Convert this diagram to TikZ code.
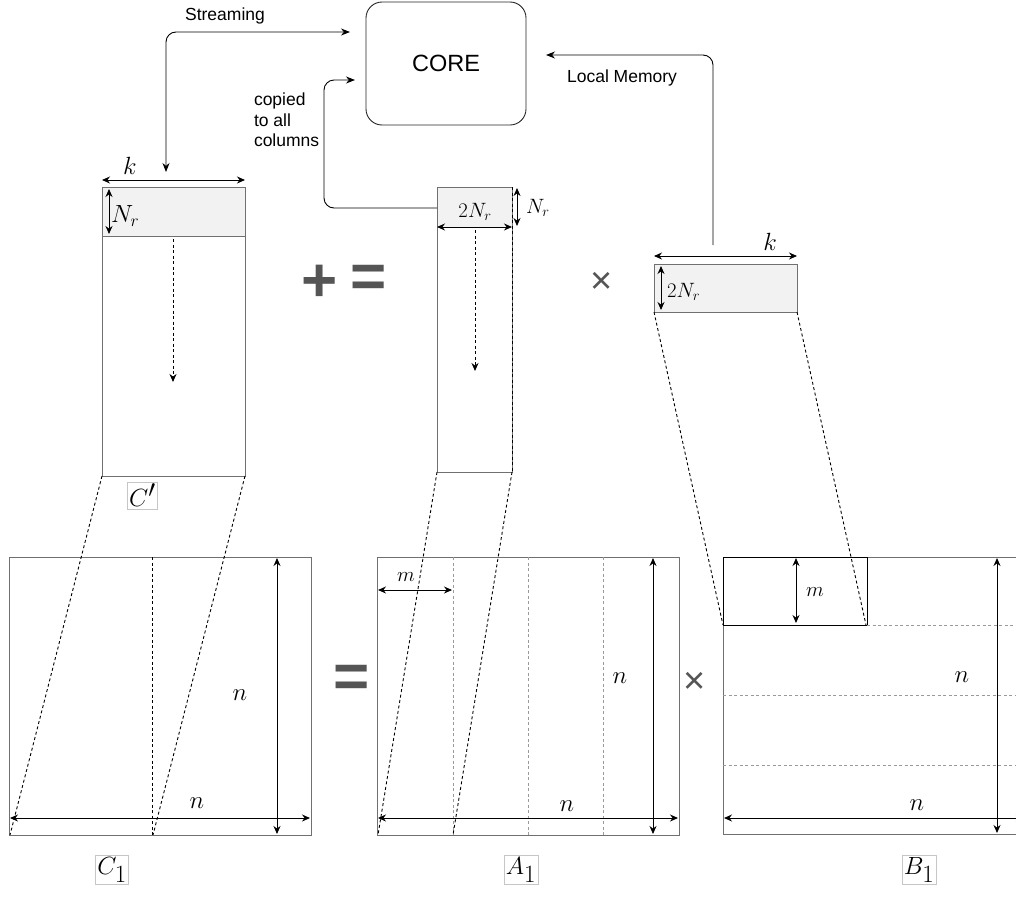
\documentclass[tikz,border=0pt]{standalone}
\usepackage{fontspec}
\setmainfont{Liberation Sans}
\usetikzlibrary{arrows.meta}
\definecolor{edge}{HTML}{707070}
\definecolor{blockfill}{HTML}{F2F2F2}
\definecolor{sym}{HTML}{555555}
\definecolor{lightdash}{HTML}{9A9A9A}
\begin{document}
\begin{tikzpicture}[x=1pt,y=-1pt,
  every node/.style={inner sep=0pt,outer sep=0pt},
  tipA/.style={-{Stealth[length=9pt,width=7pt]}},
  link/.style={draw=black,line width=0.9pt,rounded corners=10pt},
  dimline/.style={draw=black,line width=1pt,{Stealth[length=8pt,width=7pt]}-{Stealth[length=8pt,width=7pt]}},
  frame/.style={draw=edge,line width=1pt},
  proj/.style={draw=black,line width=0.9pt,dash pattern=on 3pt off 2.5pt},
  split/.style={draw=lightdash,line width=0.8pt,dash pattern=on 3pt off 2.5pt},
  flow/.style={draw=black,line width=1pt,dash pattern=on 3pt off 2.5pt,-{Stealth[length=8pt,width=7pt]}},
  sanslabel/.style={font=\fontsize{17.5}{21}\selectfont},
  mlabel/.style={font=\fontsize{23}{26}\selectfont},
  slabel/.style={font=\fontsize{20}{24}\selectfont},
  bigname/.style={draw=gray!45,line width=0.6pt,inner sep=2pt,font=\fontsize{37}{40}\selectfont},
  opsign/.style={text=sym,font=\fontsize{62}{62}\selectfont\bfseries},
  timesign/.style={text=sym,font=\fontsize{38}{38}\selectfont},
]
\useasboundingbox (0,0) rectangle (1016,897);
\clip (0,0) rectangle (1016,897);

% ---------- processing core ----------
\node[draw=black!85,line width=0.9pt,rounded corners=16pt,minimum width=160pt,minimum height=123pt,
      font=\fontsize{23.5}{28}\selectfont] (core) at (446,63.5) {CORE};

% ---------- block C' (streamed) ----------
\coordinate (cpTL) at (102,187);
\coordinate (cpBR) at (245,476);
\coordinate (cpBL) at (102,476);
\fill[blockfill] (102,187) rectangle (245,236);
\draw[frame] (cpTL) rectangle (cpBR);
\draw[edge,line width=1pt] (102,236) -- (245,236);
\coordinate (cpkL) at (102,180);
\coordinate (cpkR) at (245,180);
\draw[dimline] (cpkL) -- (cpkR);
\node[mlabel] (cpk) at (130,166) {$k$};
\coordinate (cpnT) at (109,189);
\coordinate (cpnB) at (109,234);
\draw[dimline] (cpnT) -- (cpnB);
\node[mlabel,anchor=west] (cpnr) at (111,216) {$N_r$};
\coordinate (cpfT) at (173,239);
\coordinate (cpfB) at (173,382);
\draw[flow] (cpfT) -- (cpfB);
\node[bigname] (cpname) at (142.5,495.5) {$C'$};

% ---------- block of A ----------
\fill[blockfill] (437,187) rectangle (512,227);
\draw[frame] (437,187) rectangle (512,472);
\draw[proj] (512,187) -- (512,472);
\coordinate (aL) at (437,227);
\coordinate (aR) at (512,227);
\draw[dimline] (aL) -- (aR);
\node[slabel] (a2nr) at (475,212) {$2N_r$};
\coordinate (anT) at (517,188);
\coordinate (anB) at (517,226);
\draw[dimline] (anT) -- (anB);
\node[slabel,anchor=west] (anr) at (526,208) {$N_r$};
\coordinate (afT) at (475,230);
\coordinate (afB) at (475,371);
\draw[flow] (afT) -- (afB);

% ---------- block of B ----------
\fill[blockfill] (654,264) rectangle (797,312);
\draw[frame] (654,264) rectangle (797,312);
\coordinate (bkL) at (654,256);
\coordinate (bkR) at (797,256);
\draw[dimline] (bkL) -- (bkR);
\node[mlabel] (bk) at (770,242) {$k$};
\coordinate (bnT) at (661,266);
\coordinate (bnB) at (661,310);
\draw[dimline] (bnT) -- (bnB);
\node[slabel,anchor=west] (b2nr) at (667,292) {$2N_r$};

% ---------- operators between blocks ----------
\node[opsign] (plusTop) at (320,283) {+};
\node[opsign] (eqTop) at (369,281) {=};
\node[timesign] (timesTop) at (602,283) {×};

% ---------- connectors to the core ----------
\coordinate (streamIn) at (350,32);
\coordinate (streamOut) at (166,172);
\draw[link,{Stealth[length=9pt,width=7pt]}-{Stealth[length=9pt,width=7pt]}] (streamOut) |- (streamIn);
\node[sanslabel] (streamTxt) at (225,16) {Streaming};

\coordinate (copyFrom) at (437,208);
\coordinate (copyIn) at (355,80);
\draw[link,tipA] (copyFrom) -- (324,208) -- (324,80) -- (copyIn);
\node[sanslabel,align=left,anchor=west,font=\fontsize{17.5}{20.5}\selectfont] (copyTxt) at (254,120) {copied\\to all\\columns};

\coordinate (lmFrom) at (713,245);
\coordinate (lmIn) at (546,55);
\draw[link,tipA] (lmFrom) |- (lmIn);
\node[sanslabel] (lmTxt) at (622,78) {Local Memory};

% ---------- matrix C1 ----------
\draw[frame] (9,557) rectangle (311,835);
\draw[proj] (152,557) -- (152,835);
\coordinate (c1vT) at (277,558);
\coordinate (c1vB) at (277,834);
\draw[dimline] (c1vT) -- (c1vB);
\coordinate (c1hL) at (10,818);
\coordinate (c1hR) at (310,818);
\draw[dimline] (c1hL) -- (c1hR);
\node[mlabel] (c1n1) at (240,695) {$n$};
\node[mlabel] (c1n2) at (197,803) {$n$};
\node[bigname] (c1name) at (112,870) {$C_1$};

% ---------- matrix A1 ----------
\draw[frame] (377,557) rectangle (679,835);
\foreach \xx in {453,528,603} \draw[split] (\xx,557) -- (\xx,835);
\coordinate (a1mL) at (378,590);
\coordinate (a1mR) at (452,590);
\draw[dimline] (a1mL) -- (a1mR);
\node[slabel] (a1m) at (406,577) {$m$};
\coordinate (a1vT) at (653,558);
\coordinate (a1vB) at (653,834);
\draw[dimline] (a1vT) -- (a1vB);
\coordinate (a1hL) at (378,818);
\coordinate (a1hR) at (678,818);
\draw[dimline] (a1hL) -- (a1hR);
\node[mlabel] (a1n1) at (620,678) {$n$};
\node[mlabel] (a1n2) at (567,806) {$n$};
\node[bigname] (a1name) at (521,870) {$A_1$};

% ---------- matrix B1 ----------
\draw[frame] (723,557) rectangle (1025,834);
\draw[draw=black,line width=1pt] (723,557) rectangle (867,625);
\draw[split] (867,625) -- (1025,625);
\draw[split] (723,695) -- (1025,695);
\draw[split] (723,765) -- (1025,765);
\coordinate (b1mT) at (796,558);
\coordinate (b1mB) at (796,623);
\draw[dimline] (b1mT) -- (b1mB);
\node[slabel] (b1m) at (815,592) {$m$};
\coordinate (b1vT) at (997,558);
\coordinate (b1vB) at (997,833);
\draw[dimline] (b1vT) -- (b1vB);
\coordinate (b1hL) at (724,818);
\coordinate (b1hR) at (1024,818);
\draw[dimline] (b1hL) -- (b1hR);
\node[mlabel] (b1n1) at (962,677) {$n$};
\node[mlabel] (b1n2) at (917,805) {$n$};
\node[bigname] (b1name) at (919,870) {$B_1$};

% ---------- operators between matrices ----------
\node[opsign] (eqBot) at (352,681) {=};
\node[timesign] (timesBot) at (695,683) {×};

% ---------- projections from blocks onto matrices ----------
\draw[proj] (cpBL) -- (10,835);
\draw[proj] (cpBR) -- (153,835);
\draw[proj] (437,472) -- (378,835);
\draw[proj] (512,472) -- (453,835);
\draw[proj] (654,312) -- (723,625);
\draw[proj] (797,312) -- (866,625);
\end{tikzpicture}
\end{document}
